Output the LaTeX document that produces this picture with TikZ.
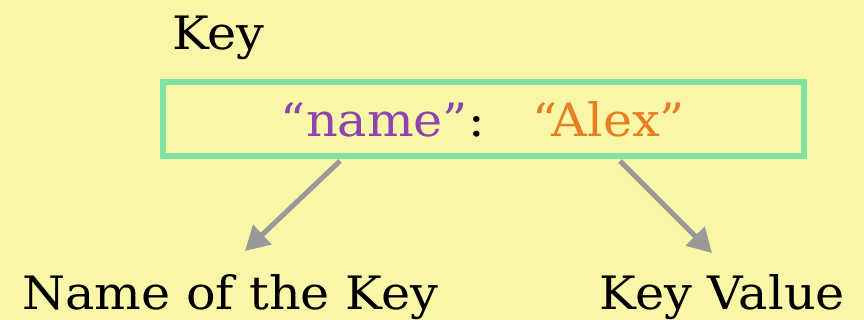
\documentclass[tikz,border=0pt]{standalone}
\usepackage{fontspec}
\setmainfont[FakeStretch=1.07]{DejaVu Serif}
\usetikzlibrary{arrows.meta}
\definecolor{bg}{HTML}{F9F6A7}
\definecolor{keypurple}{HTML}{8E44AD}
\definecolor{valorange}{HTML}{E67E22}
\definecolor{boxgreen}{HTML}{80E2A2}
\definecolor{arrgray}{HTML}{999999}
\tikzset{
  lbl/.style={inner sep=0pt, font=\fontsize{46}{50}\selectfont},
  arr/.style={draw=arrgray, line width=5pt, -{Triangle[length=24pt,width=26pt]}},
  kvbox/.style={draw=boxgreen, line width=6pt}
}
\begin{document}
\begin{tikzpicture}[x=1pt,y=-1pt]
\fill[bg] (0,0) rectangle (864,320);
\useasboundingbox (0,0) rectangle (864,320);
\draw[kvbox] (162.5,82.5) rectangle (803.5,156.5);
\coordinate (box) at (483,119.5);
\node[lbl, anchor=base west] (key) at (172,50) {Key};
\node[lbl, anchor=base] (pair) at (483,137) {\textcolor{keypurple}{“name”}:\hspace{1.05em}\textcolor{valorange}{“Alex”}};
\node[lbl, anchor=base west] (nk) at (22,309) {Name of the Key};
\node[lbl, anchor=base east] (kv) at (845,309) {Key Value};
\coordinate (a1s) at (340,161);
\coordinate (a1e) at (245,251);
\coordinate (a2s) at (620,161);
\coordinate (a2e) at (712,253);
\draw[arr] (a1s) -- (a1e);
\draw[arr] (a2s) -- (a2e);
\end{tikzpicture}
\end{document}
